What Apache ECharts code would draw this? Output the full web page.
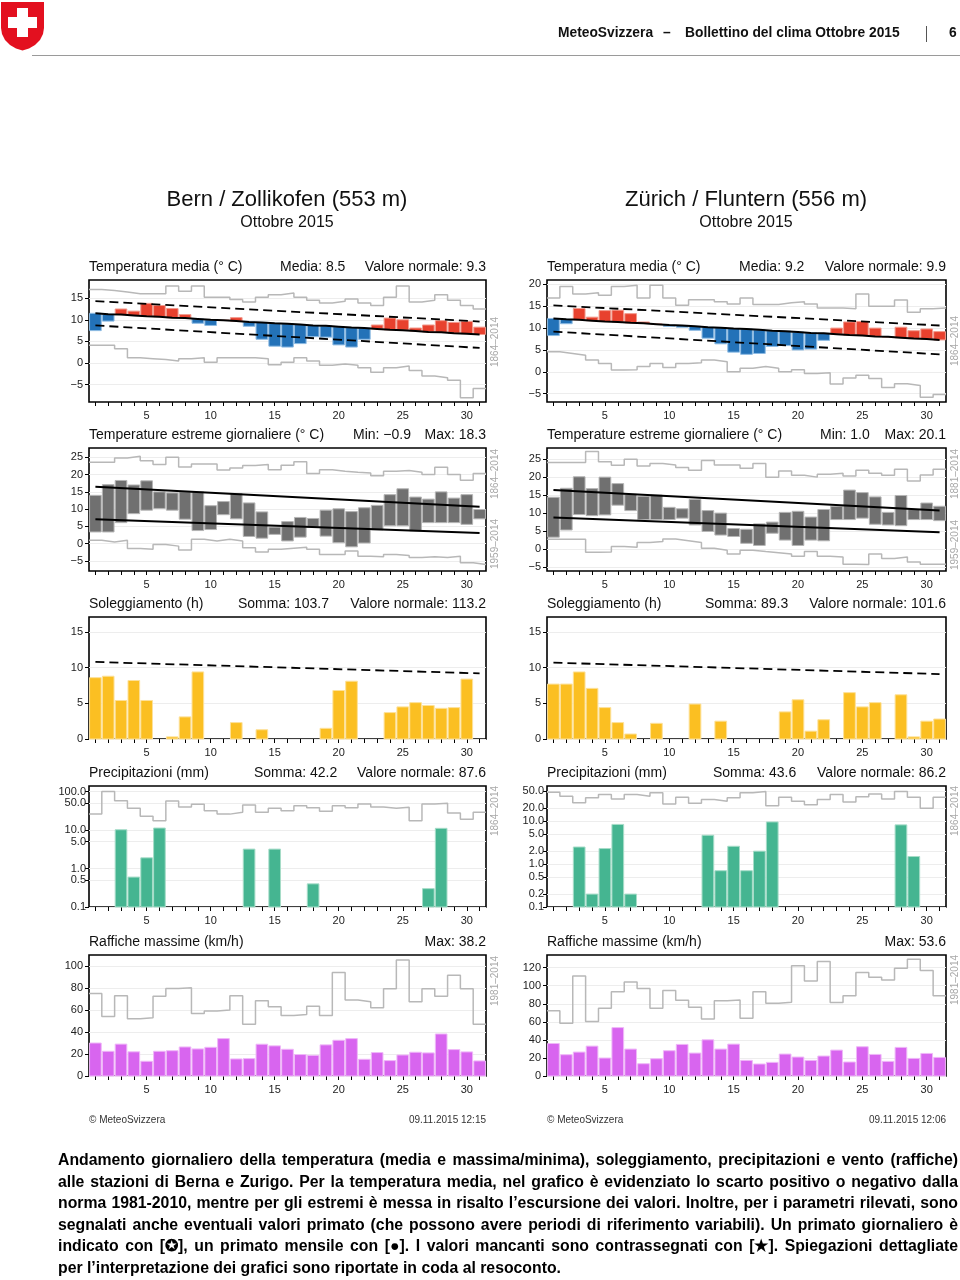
<!DOCTYPE html>
<html lang="it">
<head>
<meta charset="utf-8">
<title>Bollettino del clima Ottobre 2015</title>
<script src="https://cdn.jsdelivr.net/npm/echarts@6.0.0/dist/echarts.min.js"></script>
<style>
  html, body { margin:0; padding:0; background:#fff; }
  body { width:960px; height:1280px; position:relative; overflow:hidden; font-family:'Liberation Sans', Arial, Helvetica, sans-serif; }
  #chart { position:absolute; left:0; top:0; width:960px; height:1280px; }
  .hdr { position:absolute; top:25px; font-weight:bold; font-size:13.8px; color:#111; white-space:pre; line-height:16px; }
  #rule { position:absolute; left:32px; top:55px; width:928px; height:1px; background:#9a9a9a; }
  #sep { position:absolute; left:926px; top:26px; width:1px; height:16px; background:#555; }
  #caption { position:absolute; left:58px; top:1149px; width:900px; }
  .cl { display:block; height:21.6px; line-height:21.6px; }
  .cl span { white-space:pre; font-weight:bold; font-size:15.8px; color:#000; }
</style>
</head>
<body>
<div id="chart"></div>
<div class="hdr" style="left:558px">MeteoSvizzera</div>
<div class="hdr" style="left:663px">–</div>
<div class="hdr" style="left:685px">Bollettino del clima Ottobre 2015</div>
<div id="sep"></div>
<div class="hdr" style="left:949px">6</div>
<div id="rule"></div>
<div id="caption">
  <div class="cl j"><span>Andamento giornaliero della temperatura (media e massima/minima), soleggiamento, precipitazioni e vento (raffiche)</span></div>
  <div class="cl j"><span>alle stazioni di Berna e Zurigo. Per la temperatura media, nel grafico è evidenziato lo scarto positivo o negativo dalla</span></div>
  <div class="cl j"><span>norma 1981-2010, mentre per gli estremi è messa in risalto l’escursione dei valori. Inoltre, per i parametri rilevati, sono</span></div>
  <div class="cl j"><span>segnalati anche eventuali valori primato (che possono avere periodi di riferimento variabili). Un primato giornaliero è</span></div>
  <div class="cl j"><span>indicato con [✪], un primato mensile con [●]. I valori mancanti sono contrassegnati con [★]. Spiegazioni dettagliate</span></div>
  <div class="cl"><span>per l’interpretazione dei grafici sono riportate in coda al resoconto.</span></div>
</div>
<script>
const FONT = "'Liberation Sans', Arial, Helvetica, sans-serif";

// ---------- categories / ticks ----------
const days = [1,2,3,4,5,6,7,8,9,10,11,12,13,14,15,16,17,18,19,20,21,22,23,24,25,26,27,28,29,30,31];
const xLabelDays = [5,10,15,20,25,30];
const normalDays = [1, 31];

// ---------- Bern / Zollikofen ----------
const bernMean       = [7.5,9.7,12.5,12.0,13.8,13.3,12.6,11.2,9.2,8.7,9.9,10.5,8.5,5.5,3.9,3.7,4.5,6.1,6.0,4.2,3.7,5.5,8.8,10.4,10.0,8.1,8.8,9.8,9.4,9.6,8.3];
const bernMeanNormal = [11.5,11.3,11.2,11.0,10.8,10.7,10.5,10.4,10.2,10.0,9.9,9.7,9.5,9.4,9.2,9.1,8.9,8.7,8.6,8.4,8.2,8.1,7.9,7.7,7.6,7.4,7.2,7.1,6.9,6.8,6.6];
const bernMeanBandHi = [14.3, 9.6];
const bernMeanBandLo = [8.7, 3.5];
const bernMeanRecMax = [17.0,16.8,16.4,16.0,16.0,16.0,17.8,16.6,17.8,15.2,15.2,14.7,14.1,15.2,15.8,16.2,15.2,14.5,13.9,14.3,14.8,13.9,13.3,15.2,17.8,14.1,14.5,15.8,14.5,13.3,12.5];
const bernMeanRecMin = [4.1,4.1,3.3,1.2,1.0,0.8,0.5,1.0,1.2,0.2,1.2,1.2,1.2,1.0,-0.4,0.2,1.2,0.5,-0.5,-0.2,-0.5,-1.1,-2.1,-1.1,-0.7,-1.7,-3.0,-3.4,-4.0,-8.0,-5.9];

const bernTmax = [14.0,17.1,18.3,17.0,18.2,15.0,14.7,15.0,15.0,11.0,12.2,14.5,11.8,9.2,4.8,6.4,7.6,7.3,9.7,10.1,9.3,10.4,11.1,14.2,15.9,13.5,12.9,15.0,13.2,14.2,9.9];
const bernTmin = [3.4,3.4,6.1,8.7,9.7,10.2,9.7,7.1,3.8,4.1,8.4,7.2,2.1,1.6,2.7,0.8,1.9,4.8,2.2,0.3,-0.9,0.2,4.0,5.2,5.2,3.7,6.1,6.1,6.1,5.6,7.2];
const bernTmaxNormal = [16.5, 10.7];
const bernTminNormal = [7.1, 3.1];
const bernTmaxRec = [23.6,23.6,24.8,25.3,24.0,22.9,25.0,22.2,23.1,23.1,21.3,21.9,22.6,22.9,21.4,22.7,23.7,20.3,21.4,21.0,20.7,20.5,19.7,21.0,21.2,20.7,20.0,22.1,20.0,18.4,20.3];
const bernTminRec = [1.0,0.5,1.0,-1.4,-1.6,-0.2,-0.7,-1.8,1.3,0.8,1.3,0.8,-1.2,-2.4,-1.6,-1.3,-1.0,-1.6,-3.1,-3.1,-2.1,-3.6,-3.8,-3.1,-3.4,-4.0,-3.8,-4.0,-3.6,-5.5,-6.0];

const bernSun = [8.6,8.8,5.4,8.2,5.4,0,0.3,3.1,9.4,0,0,2.3,0,1.3,0,0,0,0,1.5,6.8,8.1,0,0,3.7,4.5,5.1,4.7,4.3,4.4,8.4,0];
const bernSunNormal = [10.8, 9.2];

const bernPrecip = [0,0,10.2,0.6,1.9,11.3,0,0,0,0,0,0,3.2,0,3.2,0,0,0.4,0,0,0,0,0,0,0,0,0.3,11.1,0,0,0];
const bernPrecipRec = [26,100,58,37,23,17.5,57,40,47,32,26,29,45,29,37,32,43,38,31,43,38,48,40,37,39,17.5,48,50,28,19,29];

const bernGust = [30,22.5,29,22,13.4,22.5,23,26.4,24.6,26.1,34,15.5,15.8,28.9,27.4,24.3,19.5,18.8,28.3,32.5,34,15.2,21.3,14,19.1,21.6,21,38.2,24,21.9,13.7];
const bernGustRec = [75,54,73,52,53,72.6,79.6,80.2,56.8,59,60,73,47,68.4,63,55,56,63.5,55,94.2,69,67.5,62,79.3,105.5,67.5,79.3,72.6,91.5,79.3,47];

// ---------- Zürich / Fluntern ----------
const zurMean       = [8.3,11.0,14.5,12.5,14.0,14.1,13.3,11.4,10.9,10.4,10.2,9.5,7.7,6.4,4.5,4.0,4.2,5.8,6.0,5.0,5.2,7.2,10.0,11.4,11.5,10.0,8.0,10.2,9.4,9.8,9.2];
const zurMeanNormal = [12.2,12.0,11.9,11.7,11.5,11.4,11.2,11.1,10.9,10.7,10.6,10.4,10.2,10.1,9.9,9.8,9.6,9.4,9.3,9.1,8.9,8.8,8.6,8.4,8.3,8.1,8.0,7.8,7.6,7.5,7.3];
const zurMeanBandHi = [15.2, 10.6];
const zurMeanBandLo = [9.2, 4.0];
const zurMeanRecMax = [16.9,19.5,17.8,18.1,17.5,19.5,19.8,16.9,19.8,16.9,15.2,16.5,16.5,16.0,15.5,16.9,15.4,15.4,15.8,16.0,15.5,14.6,14.6,14.4,17.8,15.0,15.0,16.4,13.6,14.4,14.6];
const zurMeanRecMin = [4.6,4.2,3.8,2.7,1.9,0.4,0.5,1.2,1.9,1.0,1.9,2.1,2.7,2.3,0.0,0.8,1.2,0.8,0.0,0.5,-0.4,-0.2,-2.8,-1.4,-0.8,-1.5,-3.6,-2.7,-3.1,-5.8,-5.2];

const zurTmax = [14.4,16.9,20.1,16.8,20.0,18.2,15.2,14.7,15.0,11.6,11.2,13.8,10.7,10.0,5.7,5.5,7.0,7.5,10.2,10.5,8.9,11.0,11.9,16.4,15.7,14.5,10.2,14.9,11.0,12.8,11.9];
const zurTmin = [3.3,5.3,9.6,9.3,9.5,12.2,10.7,8.2,8.2,8.2,8.6,6.7,4.9,3.9,3.5,1.6,1.0,4.4,2.5,1.0,2.5,2.3,8.2,8.2,8.6,6.9,6.7,6.5,8.2,8.2,7.9];
const zurTmaxNormal = [16.4, 10.7];
const zurTminNormal = [8.8, 4.7];
const zurTmaxRec = [24.1,24.1,24.1,27.1,24.3,23.3,25.0,23.1,23.8,23.4,22.7,21.9,24.6,23.4,23.4,22.5,23.8,20.0,21.7,20.5,20.0,20.8,21.1,20.3,21.9,21.1,20.5,22.2,18.9,20.6,22.2];
const zurTminRec = [2.7,2.7,2.7,-0.9,-0.8,0.7,0.5,1.8,2.1,2.8,2.3,1.8,0.2,-0.3,-1.4,-0.3,-0.7,-1.0,-1.4,-2.0,-0.7,-2.0,-2.2,-4.2,-4.3,-1.4,-2.6,-2.2,-3.6,-4.2,-4.2];

const zurSun = [7.7,7.7,9.4,7.1,4.4,2.3,0.7,0,2.2,0,0,4.9,0,2.5,0,0,0,0,3.8,5.5,1.1,2.7,0,6.5,4.5,5.1,0,6.2,0.3,2.5,2.8];
const zurSunNormal = [10.7, 9.1];

const zurPrecip = [0,0,2.5,0.2,2.3,8.4,0.2,0,0,0,0,0,4.7,0.7,2.6,0.7,2.0,9.6,0,0,0,0,0,0,0,0,0,8.2,1.5,0,0];
const zurPrecipRec = [47,38,27,35,42,33,42,38,46,25,36,26,32,29,35,46,49,23,36,29,24,32,42,28,37,43,33,49,36,20,36];

const zurGust = [36,23.6,26.5,33.1,19.9,53.6,29.8,13.6,19.1,28,35,25.4,40.1,29.8,35.3,17.3,13.3,15.1,24.3,21,17.3,22.1,28.7,15.5,32.4,23.9,16.2,31.7,19.5,25,20.6];
const zurGustRec = [72.2,58.5,110.8,60.4,75,93.2,104.2,96.8,75,94.6,84,76.2,63,83.2,84.3,64,93.2,80.6,81.7,122,105.3,126.7,81.4,89,114.5,109.4,106.4,119.3,129.2,116.7,89];

// ---------- axis tick values ----------
const bernMeanTicks = [-5,0,5,10,15];
const zurMeanTicks = [-5,0,5,10,15,20];
const extremeTicks = [-5,0,5,10,15,20,25];
const sunTicks = [0,5,10,15];
const bernPrecipTicks = [0.1,0.5,1,5,10,50,100];
const zurPrecipTicks = [0.1,0.2,0.5,1,2,5,10,20,50];
const bernGustTicks = [0,20,40,60,80,100];
const zurGustTicks = [0,20,40,60,80,100,120];

// ---------- colours ----------
const RED = ['#e8412e', '#f29a8d'];
const BLUE = ['#2372b8', '#8dbbe3'];
const GREYBAR = ['#707070', '#b5b5b5'];
const YELLOW = ['#fbbf22', '#fde19a'];
const GREEN = ['#45b591', '#a6dcc8'];
const MAGENTA = ['#d865ef', '#efb8f8'];
const REC = '#b8b8b8';

// ---------- layout ----------
const COLS = [{left: 89, width: 397, rot: 495}, {left: 547, width: 399, rot: 955}];
const ROWS = [{top: 280, h: 122}, {top: 448, h: 123}, {top: 617, h: 122}, {top: 786, h: 121}, {top: 955, h: 121}];

const grids = [], xAxes = [], yAxes = [], series = [], graphic = [];

function addPanel(col, row, y) {
  const idx = grids.length;
  grids.push({left: COLS[col].left, width: COLS[col].width, top: ROWS[row].top, height: ROWS[row].h,
    show: true, borderColor: '#000', borderWidth: 1.6, backgroundColor: 'transparent'});
  xAxes.push({gridIndex: idx, type: 'value', min: 0.5, max: 31.5, position: 'bottom',
    axisLine: {show: false, onZero: false}, splitLine: {show: false},
    axisTick: {show: true, length: 4, customValues: days, lineStyle: {color: '#000', width: 1}},
    axisLabel: {customValues: xLabelDays, fontSize: 11, color: '#222', margin: 8, fontFamily: FONT}});
  const ya = {gridIndex: idx, type: y.type || 'value', min: y.min, max: y.max, position: 'left',
    axisLine: {show: false, onZero: false},
    axisTick: {show: true, length: 4, customValues: y.ticks, lineStyle: {color: '#000', width: 1}},
    axisLabel: {customValues: y.ticks, fontSize: 11, color: '#222', margin: y.margin || 6, fontFamily: FONT,
      formatter: y.fmt || (v => String(v).replace('-', '\u2212'))},
    splitLine: {show: true, lineStyle: {color: '#ededed', width: 1}}};
  if (y.type === 'log') ya.logBase = 10;
  yAxes.push(ya);
  return idx;
}

function barSeries(idx, data, colors, halfW) {
  return {type: 'custom', xAxisIndex: idx, yAxisIndex: idx, silent: true, z: 3,
    data: data, encode: {x: 0, y: [1, 2]},
    renderItem: function (params, api) {
      const x = api.value(0), lo = api.value(1), hi = api.value(2);
      const k = api.value(3) || 0;
      const p1 = api.coord([x - halfW, hi]);
      const p2 = api.coord([x + halfW, lo]);
      return {type: 'rect', shape: {x: p1[0], y: p1[1], width: p2[0] - p1[0], height: p2[1] - p1[1]},
        style: {fill: colors[k][0], stroke: colors[k][1], lineWidth: 1}};
    }};
}
function lineSeries(idx, data, color, width, dashed, step, z) {
  const s = {type: 'line', xAxisIndex: idx, yAxisIndex: idx, silent: true, symbol: 'none', z: z || 4,
    data: data, lineStyle: {color: color, width: width, type: dashed ? [9, 5] : 'solid'}};
  if (step) s.step = step;
  return s;
}
function stepData(arr) {
  const d = arr.map((v, i) => [days[i] - 0.5, v]);
  d.push([days[days.length - 1] + 0.5, arr[arr.length - 1]]);
  return d;
}
function twoPoint(arr) { return normalDays.map((d, i) => [d, arr[i]]); }
function text(x, y, t, o) {
  graphic.push({type: 'text', x: x, y: y, silent: true, z: 10,
    style: Object.assign({text: t, fill: '#111', fontSize: 14, fontFamily: FONT, align: 'left', verticalAlign: 'middle'}, o || {})});
}
function rotText(col, y, t) {
  graphic.push({type: 'text', x: COLS[col].rot, y: y, rotation: Math.PI / 2, silent: true, z: 10,
    style: {text: t, fill: '#a8a8a8', fontSize: 10, fontFamily: FONT, align: 'center', verticalAlign: 'middle'}});
}
function subtitle(col, row, left, mid, midX, right) {
  const y = ROWS[row].top - 13;
  text(COLS[col].left, y, left);
  if (mid) text(midX, y, mid);
  text(COLS[col].left + COLS[col].width, y, right, {align: 'right'});
}

const stations = [
  {col: 0, name: 'Bern / Zollikofen (553 m)', cx: 287, time: '09.11.2015 12:15',
   mean: bernMean, meanN: bernMeanNormal, bandHi: bernMeanBandHi, bandLo: bernMeanBandLo, mRecMax: bernMeanRecMax, mRecMin: bernMeanRecMin,
   meanY: {min: -9, max: 19.2, ticks: bernMeanTicks},
   tmax: bernTmax, tmin: bernTmin, tmaxN: bernTmaxNormal, tminN: bernTminNormal, tmaxRec: bernTmaxRec, tminRec: bernTminRec,
   extY: {min: -7.9, max: 27.7, ticks: extremeTicks},
   sun: bernSun, sunN: bernSunNormal,
   pr: bernPrecip, prRec: bernPrecipRec, prY: {type: 'log', min: 0.1, max: 140, ticks: bernPrecipTicks, margin: 3, fmt: v => Number(v).toFixed(1)},
   gust: bernGust, gustRec: bernGustRec, gustY: {min: 0, max: 110, ticks: bernGustTicks},
   sub: [['Temperatura media (° C)', 'Media: 8.5', 280, 'Valore normale: 9.3'],
         ['Temperature estreme giornaliere (° C)', 'Min: \u22120.9', 353, 'Max: 18.3'],
         ['Soleggiamento (h)', 'Somma: 103.7', 238, 'Valore normale: 113.2'],
         ['Precipitazioni (mm)', 'Somma: 42.2', 254, 'Valore normale: 87.6'],
         ['Raffiche massime (km/h)', null, 0, 'Max: 38.2']],
   rot: [[0, 62, '1864–2014'], [1, 26, '1864–2014'], [1, 96, '1959–2014'], [3, 25, '1864–2014'], [4, 26, '1981–2014']]},
  {col: 1, name: 'Zürich / Fluntern (556 m)', cx: 746, time: '09.11.2015 12:06',
   mean: zurMean, meanN: zurMeanNormal, bandHi: zurMeanBandHi, bandLo: zurMeanBandLo, mRecMax: zurMeanRecMax, mRecMin: zurMeanRecMin,
   meanY: {min: -6.9, max: 21, ticks: zurMeanTicks},
   tmax: zurTmax, tmin: zurTmin, tmaxN: zurTmaxNormal, tminN: zurTminNormal, tmaxRec: zurTmaxRec, tminRec: zurTminRec,
   extY: {min: -6.1, max: 28.1, ticks: extremeTicks},
   sun: zurSun, sunN: zurSunNormal,
   pr: zurPrecip, prRec: zurPrecipRec, prY: {type: 'log', min: 0.1, max: 66, ticks: zurPrecipTicks, margin: 3, fmt: v => Number(v).toFixed(1)},
   gust: zurGust, gustRec: zurGustRec, gustY: {min: 0, max: 134, ticks: zurGustTicks},
   sub: [['Temperatura media (° C)', 'Media: 9.2', 739, 'Valore normale: 9.9'],
         ['Temperature estreme giornaliere (° C)', 'Min: 1.0', 820, 'Max: 20.1'],
         ['Soleggiamento (h)', 'Somma: 89.3', 705, 'Valore normale: 101.6'],
         ['Precipitazioni (mm)', 'Somma: 43.6', 713, 'Valore normale: 86.2'],
         ['Raffiche massime (km/h)', null, 0, 'Max: 53.6']],
   rot: [[0, 61, '1864–2014'], [1, 26, '1881–2014'], [1, 97, '1959–2014'], [3, 25, '1864–2014'], [4, 25, '1981–2014']]}
];

const HW = 0.455;
stations.forEach(st => {
  const c = st.col;
  // titles
  text(st.cx, 200, st.name, {fontSize: 22, align: 'center', fill: '#111'});
  text(st.cx, 223, 'Ottobre 2015', {fontSize: 16, align: 'center', fill: '#111'});
  st.sub.forEach((s, r) => subtitle(c, r, s[0], s[1], s[2], s[3]));
  st.rot.forEach(r => rotText(c, ROWS[r[0]].top + r[1], r[2]));
  text(COLS[c].left, 1120, '© MeteoSvizzera', {fontSize: 10, fill: '#333'});
  text(COLS[c].left + COLS[c].width, 1120, st.time, {fontSize: 10, fill: '#333', align: 'right'});

  // 1. mean temperature
  let i = addPanel(c, 0, st.meanY);
  series.push(lineSeries(i, stepData(st.mRecMax), REC, 1.5, false, 'end', 2));
  series.push(lineSeries(i, stepData(st.mRecMin), REC, 1.5, false, 'end', 2));
  series.push(barSeries(i, days.map((d, k) => [d, Math.min(st.mean[k], st.meanN[k]), Math.max(st.mean[k], st.meanN[k]), st.mean[k] >= st.meanN[k] ? 0 : 1]), [RED, BLUE], HW));
  series.push(lineSeries(i, days.map((d, k) => [d, st.meanN[k]]), '#000', 2, false));
  series.push(lineSeries(i, twoPoint(st.bandHi), '#000', 1.8, true));
  series.push(lineSeries(i, twoPoint(st.bandLo), '#000', 1.8, true));

  // 2. daily extremes
  i = addPanel(c, 1, st.extY);
  series.push(lineSeries(i, stepData(st.tmaxRec), REC, 1.5, false, 'end', 2));
  series.push(lineSeries(i, stepData(st.tminRec), REC, 1.5, false, 'end', 2));
  series.push(barSeries(i, days.map((d, k) => [d, st.tmin[k], st.tmax[k], 0]), [GREYBAR], HW));
  series.push(lineSeries(i, twoPoint(st.tmaxN), '#000', 2, false));
  series.push(lineSeries(i, twoPoint(st.tminN), '#000', 2, false));

  // 3. sunshine
  i = addPanel(c, 2, {min: 0, max: 17.1, ticks: sunTicks});
  series.push(barSeries(i, days.map((d, k) => [d, 0, st.sun[k], 0]).filter(p => p[2] > 0), [YELLOW], HW));
  series.push(lineSeries(i, twoPoint(st.sunN), '#000', 1.8, true));

  // 4. precipitation (log)
  i = addPanel(c, 3, st.prY);
  series.push(lineSeries(i, stepData(st.prRec), REC, 1.5, false, 'end', 2));
  series.push(barSeries(i, days.map((d, k) => [d, 0.1, st.pr[k], 0]).filter(p => p[2] > 0), [GREEN], HW));

  // 5. gusts
  i = addPanel(c, 4, st.gustY);
  series.push(lineSeries(i, stepData(st.gustRec), REC, 1.5, false, 'end', 2));
  series.push(barSeries(i, days.map((d, k) => [d, 0, st.gust[k], 0]), [MAGENTA], HW));
});

// Swiss shield logo
graphic.push({type: 'polygon', silent: true, z: 10,
  shape: {points: [[1,2],[44,2],[44,28],[43,34],[40,40],[35,45],[29,48.5],[22.5,50.5],[16,48.5],[10,45],[5,40],[2,34],[1,28]]},
  style: {fill: '#e3101f'}});
graphic.push({type: 'rect', silent: true, z: 11, shape: {x: 17, y: 8, width: 11, height: 29}, style: {fill: '#fff'}});
graphic.push({type: 'rect', silent: true, z: 11, shape: {x: 8, y: 17, width: 29, height: 11}, style: {fill: '#fff'}});

const chart = echarts.init(document.getElementById('chart'), null, {renderer: 'canvas'});
chart.setOption({
  animation: false,
  backgroundColor: '#fff',
  textStyle: {fontFamily: FONT},
  grid: grids, xAxis: xAxes, yAxis: yAxes, series: series, graphic: graphic
});

// justify caption lines
document.querySelectorAll('#caption .cl.j span').forEach(sp => {
  const w = sp.getBoundingClientRect().width;
  const n = (sp.textContent.match(/ /g) || []).length;
  if (n > 0) sp.style.wordSpacing = ((900 - w) / n) + 'px';
});
</script>
</body>
</html>
